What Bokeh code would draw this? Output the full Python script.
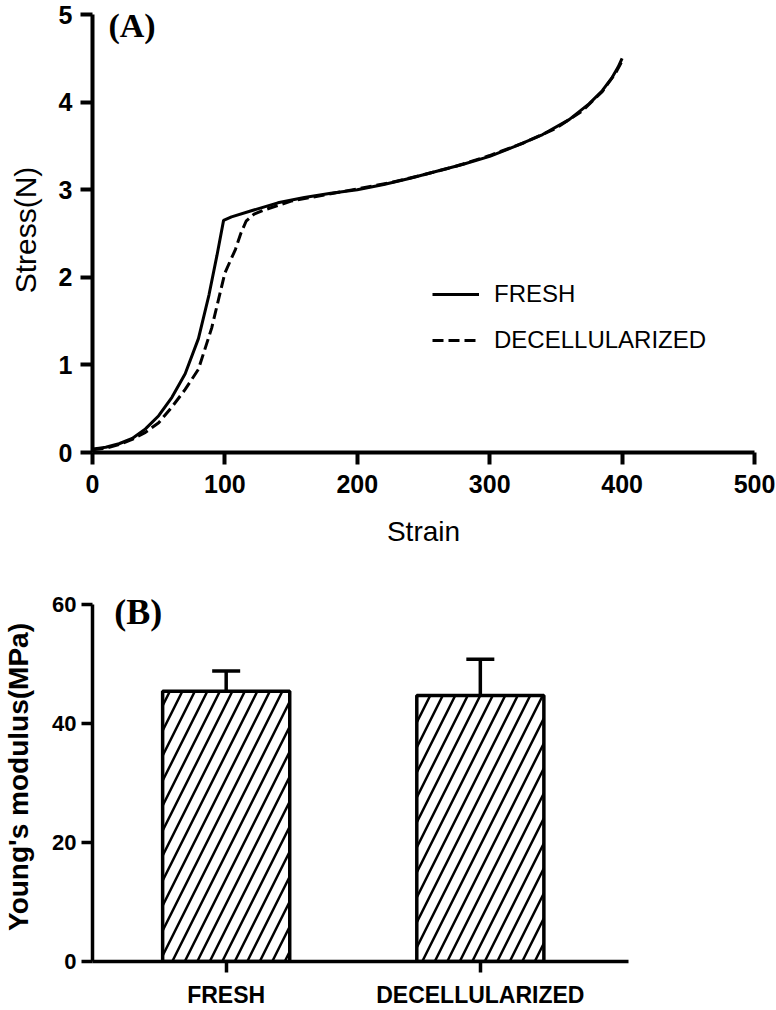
from bokeh.plotting import figure
from bokeh.models import (Legend, LegendItem, Whisker, TeeHead, Label,
                          ColumnDataSource, FixedTicker, Range1d)
from bokeh.embed import file_html
from bokeh.resources import INLINE

# ---------------- data: panel A (stress-strain) ----------------
fresh_strain = [0, 5, 10, 20, 30, 40, 50, 60, 70, 80, 88, 94, 99, 105, 120, 140,
                160, 180, 200, 220, 240, 260, 280, 300, 320, 340, 360, 375, 385,
                392, 397, 400]
fresh_stress = [0.04, 0.05, 0.06, 0.10, 0.16, 0.27, 0.42, 0.63, 0.90, 1.30, 1.80,
                2.25, 2.65, 2.69, 2.76, 2.85, 2.91, 2.96, 3.00, 3.06, 3.13, 3.21,
                3.29, 3.38, 3.50, 3.63, 3.80, 3.98, 4.13, 4.27, 4.40, 4.50]

decell_strain = [0, 10, 20, 30, 40, 50, 60, 70, 80, 90, 100, 108, 112, 116, 122,
                 130, 150, 175, 200, 225, 250, 275, 300, 325, 350, 370, 385, 395,
                 400]
decell_stress = [0.03, 0.05, 0.09, 0.15, 0.23, 0.34, 0.52, 0.72, 0.95, 1.42, 2.05,
                 2.32, 2.50, 2.64, 2.72, 2.77, 2.87, 2.94, 3.01, 3.08, 3.17, 3.27,
                 3.39, 3.53, 3.70, 3.90, 4.12, 4.33, 4.47]

series_labels = ["FRESH", "DECELLULARIZED"]
strain_ticks = [0, 100, 200, 300, 400, 500]
stress_ticks = [0, 1, 2, 3, 4, 5]

# ---------------- data: panel B (Young's modulus) ----------------
categories = ["FRESH", "DECELLULARIZED"]
cat_pos = [1, 2]
modulus_mean = [45.4, 44.7]
modulus_err = [3.4, 6.1]
modulus_ticks = [0, 20, 40, 60]

SANS = "Liberation Sans"
SERIF = "Liberation Serif"


def style_axes(p, lw, tick_out):
    for ax in (p.xaxis, p.yaxis):
        ax.axis_line_width = lw
        ax.axis_line_color = "black"
        ax.major_tick_line_width = lw
        ax.major_tick_line_color = "black"
        ax.major_tick_out = tick_out
        ax.major_tick_in = 0
        ax.minor_tick_line_color = None
        ax.major_label_text_font = SANS
        ax.major_label_text_font_style = "bold"
        ax.major_label_text_color = "black"
        ax.axis_label_text_font = SANS
        ax.axis_label_text_color = "black"
    p.grid.visible = False
    p.outline_line_color = None


# ---------------- panel A ----------------
# frame top a little above the axis end (5) so the top tick label is not cut
p1 = figure(width=776, height=566, x_range=Range1d(0, 500),
            y_range=Range1d(0, 5.08), output_backend="svg", toolbar_location=None,
            min_border_left=92, min_border_right=22, min_border_top=7,
            min_border_bottom=114)
style_axes(p1, 4, 12)
p1.yaxis.bounds = (0, 5)
p1.xaxis.ticker = FixedTicker(ticks=strain_ticks)
p1.yaxis.ticker = FixedTicker(ticks=stress_ticks)
p1.xaxis.major_label_text_font_size = "25px"
p1.yaxis.major_label_text_font_size = "25px"
p1.xaxis.major_label_standoff = 10
p1.yaxis.major_label_standoff = 8
p1.xaxis.axis_label = "Strain"
p1.yaxis.axis_label = "Stress(N)"
p1.xaxis.axis_label_text_font_size = "28px"
p1.yaxis.axis_label_text_font_size = "30px"
p1.xaxis.axis_label_text_font_style = "normal"
p1.yaxis.axis_label_text_font_style = "normal"
p1.xaxis.axis_label_standoff = 20
p1.yaxis.axis_label_standoff = 14

r1 = p1.line(fresh_strain, fresh_stress, line_width=3, line_color="black")
r2 = p1.line(decell_strain, decell_stress, line_width=3, line_color="black",
             line_dash="11 5")

legend = Legend(items=[LegendItem(label=series_labels[0], renderers=[r1]),
                       LegendItem(label=series_labels[1], renderers=[r2])],
                location=(340, 97), glyph_width=47, glyph_height=30,
                label_height=30, spacing=16, label_standoff=15, padding=0,
                margin=0, border_line_color=None, background_fill_alpha=0,
                label_text_font=SANS, label_text_font_size="24px",
                label_text_color="black")
p1.add_layout(legend)

p1.add_layout(Label(x=12, y=4.875, text="(A)", text_font=SERIF,
                    text_font_style="bold", text_font_size="34px",
                    text_baseline="middle", text_color="black"))

# ---------------- panel B ----------------
p2 = figure(width=776, height=444, x_range=Range1d(0.474, 2.583),
            y_range=Range1d(0, 62), output_backend="svg", toolbar_location=None,
            min_border_left=88, min_border_right=148, min_border_top=26,
            min_border_bottom=46)
style_axes(p2, 3.5, 11)
p2.yaxis.bounds = (0, 60)
p2.xaxis.ticker = FixedTicker(ticks=cat_pos)
p2.xaxis.major_label_overrides = dict(zip(cat_pos, categories))
p2.yaxis.ticker = FixedTicker(ticks=modulus_ticks)
p2.xaxis.major_label_text_font_size = "23px"
p2.yaxis.major_label_text_font_size = "22px"
p2.xaxis.major_label_standoff = 9
p2.yaxis.major_label_standoff = 5
p2.yaxis.axis_label = "Young's modulus(MPa)"
p2.yaxis.axis_label_text_font_size = "28px"
p2.yaxis.axis_label_text_font_style = "bold"
p2.yaxis.axis_label_standoff = 15

src = ColumnDataSource(dict(x=cat_pos, mean=modulus_mean,
                            upper=[m + e for m, e in zip(modulus_mean, modulus_err)]))
p2.add_layout(Whisker(source=src, base="x", lower="mean", upper="upper",
                      line_width=3.5, line_color="black", lower_head=None,
                      upper_head=TeeHead(size=28, line_width=3.5,
                                         line_color="black")))
p2.vbar(x="x", top="mean", width=0.5, source=src, fill_color="white",
        line_color="black", line_width=3.5, hatch_pattern="/", hatch_scale=25,
        hatch_weight=2.5, hatch_color="black")

p2.add_layout(Label(x=0.56, y=58.8, text="(B)", text_font=SERIF,
                    text_font_style="bold", text_font_size="36px",
                    text_baseline="middle", text_color="black"))

open("out.html", "w").write(file_html([p1, p2], INLINE))
